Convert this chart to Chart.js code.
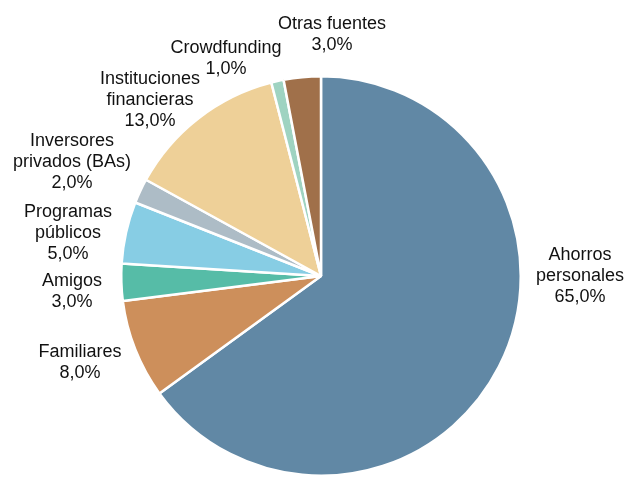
<!DOCTYPE html>
<html>
<head>
<meta charset="utf-8">
<script src="https://cdn.jsdelivr.net/npm/chart.js@4/dist/chart.umd.min.js"></script>
<style>
  html, body { margin: 0; padding: 0; background: #fff; }
  #wrap { width: 628px; height: 478px; }
</style>
</head>
<body>
<div id="wrap"><canvas id="pie" width="628" height="478"></canvas></div>
<script>
// data
const labels = ['Ahorros personales', 'Familiares', 'Amigos', 'Programas públicos',
  'Inversores privados (BAs)', 'Instituciones financieras', 'Crowdfunding', 'Otras fuentes'];
const values = [65, 8, 3, 5, 2, 13, 1, 3];
const colors = ['#6188a5', '#cd8f5b', '#56bca7', '#87cde4', '#adbcc6', '#eed098', '#9fd3c1', '#a0704a'];

// how each label is broken into lines
const labelLines = [
  ['Ahorros', 'personales'],
  ['Familiares'],
  ['Amigos'],
  ['Programas', 'públicos'],
  ['Inversores', 'privados (BAs)'],
  ['Instituciones', 'financieras'],
  ['Crowdfunding'],
  ['Otras fuentes']
];
// label block centre, relative to the pie centre
const labelOffsets = [
  [259, 0], [-241, 87], [-249, 16], [-253, -43], [-249, -114], [-171, -176], [-95, -217], [11, -241]
];

const fmt = v => v.toFixed(1).replace('.', ',') + '%';

const outerLabels = {
  id: 'outerLabels',
  afterDraw(chart) {
    const ctx = chart.ctx;
    const arc = chart.getDatasetMeta(0).data[0];
    const cx = arc.x, cy = arc.y;
    const lh = 21;
    ctx.save();
    ctx.font = '18px "Liberation Sans", Arial, sans-serif';
    ctx.fillStyle = '#111111';
    ctx.textAlign = 'center';
    ctx.textBaseline = 'middle';
    values.forEach((v, i) => {
      const lines = labelLines[i].concat([fmt(v)]);
      const x = cx + labelOffsets[i][0];
      const y0 = cy + labelOffsets[i][1] - (lines.length - 1) * lh / 2;
      lines.forEach((t, j) => ctx.fillText(t, x, y0 + j * lh));
    });
    ctx.restore();
  }
};

new Chart(document.getElementById('pie'), {
  type: 'pie',
  data: {
    labels: labels,
    datasets: [{
      data: values,
      backgroundColor: colors,
      borderColor: '#ffffff',
      borderWidth: 2.5
    }]
  },
  options: {
    responsive: false,
    animation: false,
    layout: { padding: { left: 120, right: 106, top: 75, bottom: 1 } },
    plugins: {
      legend: { display: false },
      tooltip: { enabled: false }
    }
  },
  plugins: [outerLabels]
});
</script>
</body>
</html>
